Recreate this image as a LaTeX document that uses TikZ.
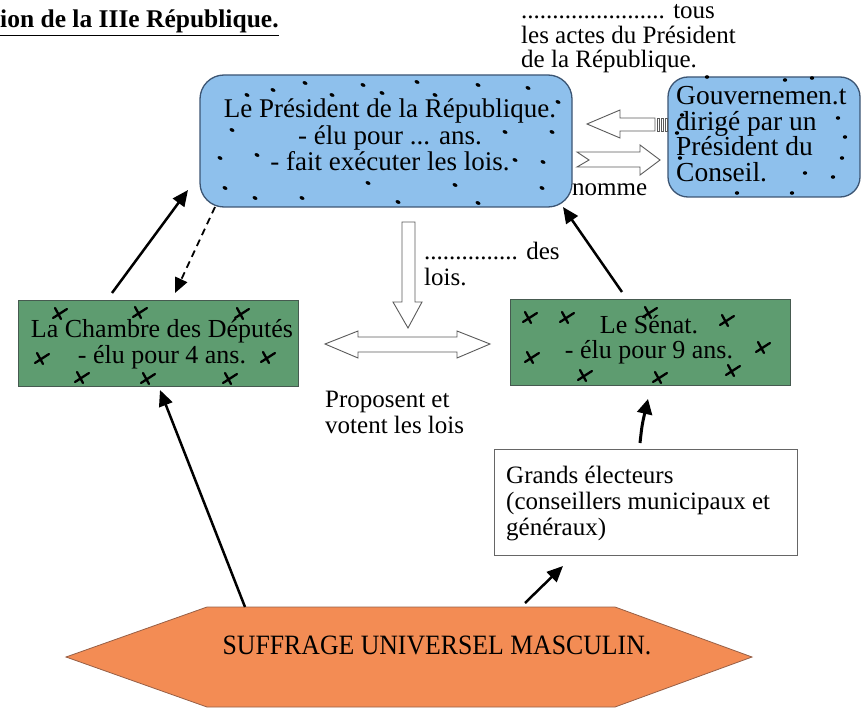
\documentclass[tikz,border=0pt]{standalone}
\usepackage{fontspec}
\setmainfont{Liberation Serif}
\usetikzlibrary{arrows.meta,calc}
\definecolor{presblue}{RGB}{142,192,236}
\definecolor{presedge}{RGB}{60,85,115}
\definecolor{boxgreen}{RGB}{94,156,112}
\definecolor{greenedge}{RGB}{70,90,80}
\definecolor{hexorange}{RGB}{243,140,84}
\definecolor{hexedge}{RGB}{150,95,70}
\definecolor{hollowedge}{RGB}{90,90,90}
\tikzset{
  txt/.style={inner sep=0pt, font=\fontsize{25}{26}\selectfont},
  bigtxt/.style={inner sep=0pt, font=\fontsize{27}{26.5}\selectfont},
  bluebox/.style={draw=presedge, line width=1.3pt, fill=presblue, rounded corners=24pt},
  greenbox/.style={draw=greenedge, line width=1pt, fill=boxgreen},
  whitebox/.style={draw=gray!80!black, line width=1pt, fill=white},
  hollow/.style={draw=hollowedge, line width=0.9pt, fill=white, line join=miter},
  thickarrow/.style={line width=2.5pt, -{Triangle[length=16pt,width=14pt]}},
  dashedarrow/.style={line width=1.8pt, dashed, dash pattern=on 7pt off 5pt, -{Triangle[length=15pt,width=13pt]}},
  xmk/.style={line width=2.3pt, line cap=round}
}
\begin{document}
\begin{tikzpicture}[x=1pt,y=-1pt]
\useasboundingbox (0,0) rectangle (865,714);

% title
\node[txt, anchor=base west, font=\fontsize{25.5}{26}\selectfont\bfseries] (title) at (0,28) {\underline{ion de la IIIe République.}};

% top right text
\node[txt, anchor=west, align=left, font=\fontsize{25}{24.5}\selectfont] (actes) at (521,39) {....................... tous\\les actes du Président\\de la République.};

% President box
\node[bluebox, minimum width=372pt, minimum height=132pt] (pres) at (386,141) {};
\node[bigtxt, align=center] (prestext) at (390,135) {Le Président de la République.\\- élu pour ... ans.\\- fait exécuter les lois.};
\foreach \x/\y in {305/83,363/85,417/82,478/85,528/88,247/95,273/90,332/95,382/93,435/95,558/102,232/130,505/132,552/132,220/158,257/155,515/160,543/162,225/188,368/183,455/185,542/188,255/198,302/198,398/202,478/203}
  \fill[rotate around={-25:(\x,\y)}] (\x,\y) ellipse [x radius=2.6, y radius=1.7];

% Gouvernement box
\node[bluebox, rounded corners=20pt, minimum width=192pt, minimum height=120pt] (gouv) at (764,137) {};
\node[bigtxt, anchor=west, align=left, font=\fontsize{27.5}{25.5}\selectfont] (gouvtext) at (676,134) {Gouvernemen.t\\dirigé par un\\Président du\\Conseil.};
\foreach \x/\y in {707/77,785/80,812/78,682/115,838/118,845/137,677/133,680/158,842/158,805/173,833/177,737/193,792/193}
  \fill (\x,\y) ellipse [x radius=2.2, y radius=1.8];

% hollow arrows between President and Gouvernement
\draw[hollow] (587,124) -- (620,110) -- (620,118) -- (655,118) -- (655,131) -- (620,131) -- (620,138) -- cycle;
\foreach \x in {657,661,665}
  \draw[hollow, line width=0.7pt] (\x,118) rectangle (\x+2.6,131);
\draw[hollow] (577,152) -- (640,152) -- (640,145) -- (660,160) -- (640,175) -- (640,167) -- (577,167) -- (589,160) -- cycle;
\node[txt, anchor=west] (nomme) at (572,190) {nomme};

% down hollow arrow
\draw[hollow] (402,222) -- (415,222) -- (415,302) -- (422,302) -- (408,328) -- (393,302) -- (402,302) -- cycle;
\node[txt, anchor=west, align=left] (des) at (424,264) {............... des\\lois.};

% Chambre
\node[greenbox, minimum width=280pt, minimum height=86pt] (cham) at (158,343) {};
\node[txt, align=center, font=\fontsize{26}{26}\selectfont] (chamtext) at (162,344) {La Chambre des Députés\\- élu pour 4 ans.};
\foreach \x/\y in {60/313,140/312,242/313,42/358,268/357,82/377,148/378,230/378}
  {\draw[xmk] (\x-7,\y+5) -- (\x+7,\y-4); \draw[xmk] (\x-5,\y-5) -- (\x+1,\y+6);}

% Senat
\node[greenbox, minimum width=280pt, minimum height=86pt] (senat) at (650,342) {};
\node[txt, align=center, font=\fontsize{26}{25}\selectfont] (senattext) at (649,340) {Le Sénat.\\- élu pour 9 ans.};
\foreach \x/\y in {530/317,567/317,650/312,727/320,532/357,763/347,585/375,660/377,733/370}
  {\draw[xmk] (\x-7,\y+5) -- (\x+7,\y-4); \draw[xmk] (\x-5,\y-5) -- (\x+1,\y+6);}

% double hollow arrow
\draw[hollow] (325,344) -- (358,331) -- (358,337) -- (457,337) -- (457,331) -- (490,344) -- (457,358) -- (457,352) -- (358,352) -- (358,358) -- cycle;
\node[txt, anchor=west, align=left] (propose) at (325,412) {Proposent et\\votent les lois};

% Grands electeurs
\node[whitebox, minimum width=303pt, minimum height=106pt] (grands) at (645.5,502) {};
\node[txt, anchor=west, align=left] (grandstext) at (506,504) {Grands électeurs\\(conseillers municipaux et\\généraux)};

% hexagon
\coordinate (hL) at (66,657); \coordinate (hTL) at (207,607); \coordinate (hTR) at (615,607);
\coordinate (hR) at (752,657); \coordinate (hBR) at (615,707); \coordinate (hBL) at (207,707);
\fill[hexorange] (hL) -- (hTL) -- (hTR) -- (hR) -- (hBR) -- (hBL) -- cycle;
\draw[hexedge, line width=0.8pt] (hL) -- (hTL) -- (hTR) -- (hR) -- (hBR) -- (hBL) -- cycle;
\node[txt] (suffrage) at (437,645) {\scalebox{0.92}[1]{\fontsize{28}{28}\selectfont SUFFRAGE UNIVERSEL MASCULIN.}};

% connector end points
\coordinate (chamA) at (112,293);
\coordinate (presA) at (188,190);
\coordinate (presB) at (215,207);
\coordinate (chamB) at (175,293);
\coordinate (senatA) at (622,292);
\coordinate (presC) at (563,207);
\coordinate (hexA) at (245,607);
\coordinate (chamC) at (160,390);
\coordinate (hexB) at (525,603);
\coordinate (grandsA) at (563,566);
\coordinate (grandsB) at (640,443);
\coordinate (senatB) at (648,399);

\draw[thickarrow] (chamA) -- (presA);
\draw[dashedarrow] (presB) -- (chamB);
\draw[thickarrow] (senatA) -- (presC);
\draw[thickarrow] (hexA) -- (chamC);
\draw[thickarrow] (hexB) -- (grandsA);
\draw[line width=3pt, -{Triangle[length=15pt,width=15pt]}] (grandsB) .. controls (642,425) .. (senatB);
\end{tikzpicture}
\end{document}
